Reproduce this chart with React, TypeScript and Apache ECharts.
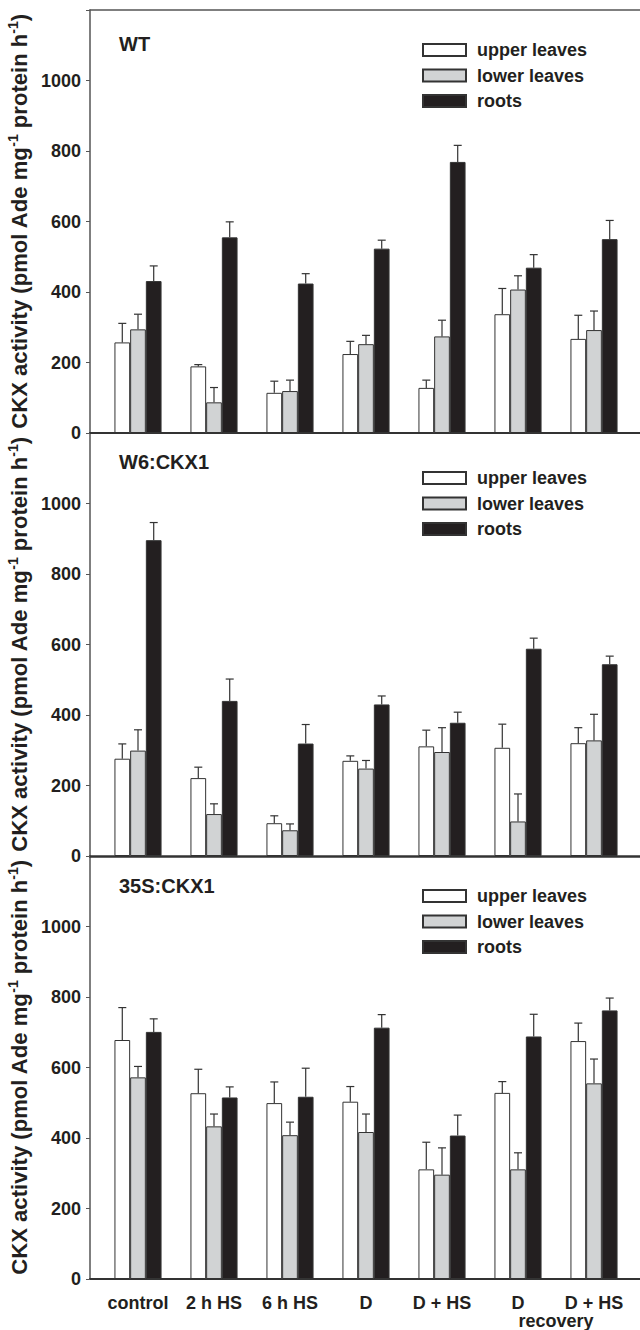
import React, { useEffect, useRef } from "react";
import * as echarts from "echarts";

const categories = ["control", "2 h HS", "6 h HS", "D", "D + HS", "D", "D + HS"];
const panelTitles = ["WT", "W6:CKX1", "35S:CKX1"];
const seriesNames = ["upper leaves", "lower leaves", "roots"];
const yTicks = [0, 200, 400, 600, 800, 1000];

// WT
const wtUpper = [257, 189, 114, 224, 128, 337, 267];
const wtUpperErr = [54, 5, 33, 36, 22, 73, 67];
const wtLower = [294, 87, 119, 252, 274, 407, 292];
const wtLowerErr = [43, 42, 31, 25, 46, 39, 54];
const wtRoots = [431, 555, 424, 523, 769, 469, 550];
const wtRootsErr = [43, 44, 28, 24, 47, 37, 53];

// W6:CKX1
const w6Upper = [276, 221, 93, 270, 311, 307, 320];
const w6UpperErr = [42, 31, 21, 14, 46, 67, 44];
const w6Lower = [299, 119, 73, 248, 295, 98, 328];
const w6LowerErr = [59, 29, 18, 23, 69, 78, 74];
const w6Roots = [896, 440, 319, 430, 378, 588, 544];
const w6RootsErr = [50, 62, 54, 24, 30, 30, 23];

// 35S:CKX1
const s35Upper = [678, 527, 499, 503, 311, 528, 675];
const s35UpperErr = [92, 68, 60, 43, 77, 32, 51];
const s35Lower = [572, 433, 408, 417, 296, 311, 555];
const s35LowerErr = [31, 35, 37, 51, 76, 47, 69];
const s35Roots = [701, 515, 517, 713, 407, 688, 762];
const s35RootsErr = [37, 30, 81, 37, 58, 63, 35];

const panelValues = [
  [wtUpper, wtLower, wtRoots],
  [w6Upper, w6Lower, w6Roots],
  [s35Upper, s35Lower, s35Roots],
];
const panelErrors = [
  [wtUpperErr, wtLowerErr, wtRootsErr],
  [w6UpperErr, w6LowerErr, w6RootsErr],
  [s35UpperErr, s35LowerErr, s35RootsErr],
];

const FONT = '"Liberation Sans", Arial, Helvetica, sans-serif';
const INK = "#231f20";
const fills = ["#ffffff", "#d1d3d4", "#231f20"];
const GAP_RATIO = 0.38;

const PANEL_TOP = 10;
const PANEL_H = 423;
const legendTops = [41, 469, 887];
const titleTops = [34, 452, 876];

function buildOption() {
  const grid: any[] = [];
  const xAxis: any[] = [];
  const yAxis: any[] = [];
  const series: any[] = [];
  const legend: any[] = [];
  const title: any[] = [];

  for (let p = 0; p < 3; p++) {
    const top = PANEL_TOP + p * PANEL_H;
    grid.push({ left: 90, right: 0, top, height: PANEL_H, outerBoundsMode: "none", containLabel: false });
    grid.push({ left: 100, right: 8, top, height: PANEL_H, outerBoundsMode: "none", containLabel: false });

    xAxis.push({
      gridIndex: 2 * p,
      type: "value",
      min: 0,
      max: 1,
      position: "bottom",
      axisLine: { show: true, lineStyle: { color: "#333", width: p === 1 ? 2.5 : 2 } },
      axisTick: { show: false },
      axisLabel: { show: false },
      splitLine: { show: false },
    });
    xAxis.push({
      gridIndex: 2 * p + 1,
      type: "category",
      data: categories,
      axisLine: { show: false },
      axisTick: { show: false },
      axisLabel: {
        show: p === 2,
        interval: 0,
        margin: 15,
        color: INK,
        fontFamily: FONT,
        fontWeight: "bold",
        fontSize: 18,
      },
    });

    yAxis.push({
      gridIndex: 2 * p,
      type: "value",
      min: 0,
      max: 1200,
      interval: 200,
      name:
        "{b|CKX activity (pmol Ade mg}{s|-1}{b| protein h}{s|-1}{b|)}",
      nameLocation: "middle",
      nameGap: 51,
      nameRotate: 90,
      nameTextStyle: {
        rich: {
          b: { fontSize: 22.1, fontWeight: "bold", fontFamily: FONT, color: INK, lineHeight: 26 },
          s: {
            fontSize: 14,
            fontWeight: "bold",
            fontFamily: FONT,
            color: INK,
            verticalAlign: "top",
            lineHeight: 26,
          },
        },
      },
      axisLine: { show: true, lineStyle: { color: "#555", width: 1.5 } },
      axisTick: { show: true, inside: false, length: 4, lineStyle: { color: "#555", width: 1 } },
      axisLabel: {
        margin: 9,
        color: INK,
        fontFamily: FONT,
        fontWeight: "bold",
        fontSize: 18,
        formatter: (v: number) => (yTicks.indexOf(v) >= 0 ? String(v) : ""),
      },
      splitLine: { show: false },
    });
    yAxis.push({
      gridIndex: 2 * p + 1,
      type: "value",
      min: 0,
      max: 1200,
      show: false,
    });

    for (let k = 0; k < 3; k++) {
      series.push({
        type: "bar",
        name: seriesNames[k],
        xAxisIndex: 2 * p + 1,
        yAxisIndex: 2 * p + 1,
        data: panelValues[p][k],
        barGap: "0%",
        barCategoryGap: GAP_RATIO * 100 + "%",
        itemStyle: { color: fills[k], borderColor: "#333", borderWidth: 1 },
        z: 2,
      });
    }
    for (let k = 0; k < 3; k++) {
      const vals = panelValues[p][k];
      const errs = panelErrors[p][k];
      series.push({
        type: "custom",
        xAxisIndex: 2 * p + 1,
        yAxisIndex: 2 * p + 1,
        z: 3,
        encode: { x: 0, y: 1 },
        data: vals.map((v, i) => [i, v, errs[i]]),
        renderItem: (params: any, api: any) => {
          const x = api.value(0);
          const y = api.value(1);
          const e = api.value(2);
          const base = api.coord([x, y]);
          const topPt = api.coord([x, y + e]);
          const band = api.size([1, 0])[0];
          const bw = (band * (1 - GAP_RATIO)) / 3;
          const cx = base[0] + (k - 1) * bw;
          const st = { stroke: "#333", lineWidth: 1.2 };
          return {
            type: "group",
            children: [
              { type: "line", shape: { x1: cx, y1: base[1], x2: cx, y2: topPt[1] }, style: st },
              { type: "line", shape: { x1: cx - 4, y1: topPt[1], x2: cx + 4, y2: topPt[1] }, style: st },
            ],
          };
        },
      });
    }

    legend.push({
      data: seriesNames,
      orient: "vertical",
      left: 422,
      top: legendTops[p],
      icon: "rect",
      itemWidth: 43,
      itemHeight: 12,
      itemGap: 7.5,
      padding: 0,
      selectedMode: false,
      textStyle: {
        color: INK,
        fontFamily: FONT,
        fontWeight: "bold",
        fontSize: 18,
        lineHeight: 18,
        padding: [0, 0, 0, 6],
      },
    });

    title.push({
      text: panelTitles[p],
      left: 119,
      top: titleTops[p],
      padding: 0,
      textStyle: { color: INK, fontFamily: FONT, fontWeight: "bold", fontSize: 20 },
    });
  }

  // top border of the first panel
  xAxis.push({
    gridIndex: 0,
    type: "value",
    min: 0,
    max: 1,
    position: "top",
    axisLine: { show: true, lineStyle: { color: "#555", width: 1.5 } },
    axisTick: { show: false },
    axisLabel: { show: false },
    splitLine: { show: false },
  });

  return {
    animation: false,
    backgroundColor: "#ffffff",
    title,
    legend,
    grid,
    xAxis,
    yAxis,
    series,
    graphic: [
      {
        type: "text",
        x: 556,
        y: 1321,
        style: {
          text: "recovery",
          textAlign: "center",
          textVerticalAlign: "middle",
          fill: INK,
          font: 'bold 18px "Liberation Sans", Arial, sans-serif',
        },
      },
    ],
  };
}

export default function App() {
  const ref = useRef<HTMLDivElement>(null);
  useEffect(() => {
    document.body.style.margin = "0";
    if (!ref.current) return;
    const chart = echarts.init(ref.current, undefined, { renderer: "svg" });
    chart.setOption(buildOption() as any);
    return () => chart.dispose();
  }, []);
  return <div ref={ref} style={{ width: 640, height: 1330, position: "absolute", left: 0, top: 0 }} />;
}
